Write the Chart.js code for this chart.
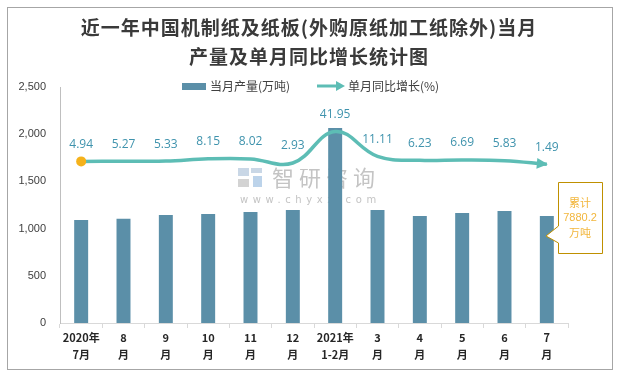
<!DOCTYPE html>
<html>
<head>
<meta charset="utf-8">
<script src="https://cdn.jsdelivr.net/npm/chart.js@4.4.0/dist/chart.umd.min.js"></script>
<style>
  html, body { margin: 0; padding: 0; background: #fff; }
  #wrap { width: 617px; height: 375px; position: relative; }
</style>
</head>
<body>
<div id="wrap"><canvas id="myChart"></canvas></div>
<script>
var categories = [['2020年', '7月'], ['8', '月'], ['9', '月'], ['10', '月'], ['11', '月'], ['12', '月'],
                  ['2021年', '1-2月'], ['3', '月'], ['4', '月'], ['5', '月'], ['6', '月'], ['7', '月']];
var output = [1091, 1105, 1144, 1155, 1176, 1197, 2065, 1197, 1133, 1165, 1186, 1134]; // 万吨
var growth = [4.94, 5.27, 5.33, 8.15, 8.02, 2.93, 41.95, 11.11, 6.23, 6.69, 5.83, 1.49]; // %
var titleLines = ['近一年中国机制纸及纸板(外购原纸加工纸除外)当月', '产量及单月同比增长统计图'];
var legendNames = ['当月产量(万吨)', '单月同比增长(%)'];
var totalNote = ['累计', '7880.2', '万吨'];

const barColor = '#5b8fa8';
const lineColor = '#5dbdb5';
const labelColor = '#3f93ad';
const noteColor = '#f2b63c';

// frame, title, legend, watermark, labels, callout
const decor = {
    id: 'decor',
    beforeDraw(chart) {
        const c = chart.ctx;
        c.save();
        c.fillStyle = '#fff';
        c.fillRect(0, 0, chart.width, chart.height);
        c.strokeStyle = '#a6a6a6';
        c.lineWidth = 1;
        c.strokeRect(7.5, 7.5, 605, 362);

        // title
        c.fillStyle = '#3a3a3a';
        c.font = 'bold 19px "Noto Sans CJK SC"';
        c.textAlign = 'center';
        c.textBaseline = 'middle';
        c.letterSpacing = '1px';
        c.fillText(titleLines[0], 309, 28);
        c.fillText(titleLines[1], 309, 57);
        c.letterSpacing = '0px';

        // legend
        c.font = '12px "Noto Sans CJK SC"';
        c.textAlign = 'left';
        c.fillStyle = barColor;
        c.fillRect(182, 83, 24, 7);
        c.fillStyle = '#404040';
        c.fillText(legendNames[0], 210, 86);
        c.strokeStyle = lineColor;
        c.lineWidth = 3;
        c.beginPath();
        c.moveTo(317, 86);
        c.lineTo(338, 86);
        c.stroke();
        c.fillStyle = lineColor;
        c.beginPath();
        c.moveTo(345, 86);
        c.lineTo(336, 81);
        c.lineTo(336, 91);
        c.closePath();
        c.fill();
        c.fillStyle = '#404040';
        c.fillText(legendNames[1], 348, 86);
        c.restore();
    },
    beforeDatasetsDraw(chart) {
        // watermark under the bars
        const c = chart.ctx;
        c.save();
        c.fillStyle = '#c9d7e6';
        c.fillRect(238, 168, 11, 8);
        c.fillRect(251, 168, 11, 5);
        c.fillStyle = '#d3d3d3';
        c.fillRect(238, 179, 11, 8);
        c.fillStyle = '#bcd3ea';
        c.fillRect(253, 176, 9, 11);
        c.fillStyle = '#c4c4c4';
        c.font = '22px "Noto Sans CJK SC"';
        c.textAlign = 'left';
        c.textBaseline = 'middle';
        c.letterSpacing = '5px';
        c.fillText('智研咨询', 272, 178);
        c.font = '10px "DejaVu Sans"';
        c.letterSpacing = '4.6px';
        c.fillText('www.chyxx.com', 240, 200);
        c.restore();
    },
    afterDatasetsDraw(chart) {
        const c = chart.ctx;
        const meta = chart.getDatasetMeta(1);
        c.save();
        // arrow head at last point
        const last = meta.data[meta.data.length - 1];
        const ang = Math.atan2(last.y - last.cp1y, last.x - last.cp1x);
        c.translate(last.x, last.y);
        c.rotate(ang);
        c.fillStyle = lineColor;
        c.beginPath();
        c.moveTo(1, 0);
        c.lineTo(-10, -5.5);
        c.lineTo(-10, 5.5);
        c.closePath();
        c.fill();
        c.restore();

        // value labels
        c.save();
        c.fillStyle = labelColor;
        c.font = '12px "Open Sans"';
        c.textAlign = 'center';
        c.textBaseline = 'middle';
        meta.data.forEach(function (p, i) {
            c.fillText(growth[i].toFixed(2), p.x, p.y - 17);
        });

        // callout box
        c.strokeStyle = '#bf9000';
        c.lineWidth = 1;
        c.fillStyle = '#fff';
        c.beginPath();
        c.moveTo(558.5, 182.5);
        c.lineTo(602.5, 182.5);
        c.lineTo(602.5, 253.5);
        c.lineTo(558.5, 253.5);
        c.lineTo(558.5, 243);
        c.lineTo(546, 236);
        c.lineTo(558.5, 226);
        c.closePath();
        c.fill();
        c.stroke();
        c.fillStyle = noteColor;
        c.font = '11px "Noto Sans CJK SC"';
        c.fillText(totalNote[0], 580, 203);
        c.font = '11px "Liberation Sans"';
        c.fillText(totalNote[1], 580, 218);
        c.font = '11px "Noto Sans CJK SC"';
        c.fillText(totalNote[2], 580, 233);
        c.restore();
    }
};

const ctx = document.getElementById('myChart').getContext('2d');
new Chart(ctx, {
    data: {
        labels: categories,
        datasets: [
            {
                type: 'bar',
                label: legendNames[0],
                data: output,
                backgroundColor: barColor,
                barPercentage: 0.33,
                categoryPercentage: 1,
                yAxisID: 'y',
                order: 2
            },
            {
                type: 'line',
                label: legendNames[1],
                data: growth,
                borderColor: lineColor,
                borderWidth: 3.5,
                tension: 0.4,
                pointRadius: growth.map((v, i) => i === 0 ? 5 : 0),
                pointBackgroundColor: '#f5b21b',
                pointBorderWidth: 0,
                yAxisID: 'y2',
                order: 1
            }
        ]
    },
    options: {
        responsive: true,
        maintainAspectRatio: false,
        animation: false,
        layout: { padding: { top: 87, right: 49, left: 0, bottom: 0 } },
        plugins: {
            legend: { display: false },
            title: { display: false },
            tooltip: { enabled: false }
        },
        scales: {
            x: {
                grid: {
                    drawOnChartArea: false,
                    drawTicks: true,
                    tickLength: 5,
                    color: '#d9d9d9'
                },
                border: { color: '#d9d9d9', width: 1 },
                ticks: {
                    color: '#262626',
                    font: { size: 11, weight: 'bold', family: '"Noto Sans CJK SC"', lineHeight: 1.5 },
                    padding: 2,
                    maxRotation: 0,
                    autoSkip: false
                },
                afterFit: function (s) { s.height = 52; }
            },
            y: {
                min: 0,
                max: 2500,
                ticks: {
                    stepSize: 500,
                    color: '#404040',
                    font: { size: 11, family: '"Liberation Sans"' },
                    padding: 14,
                    callback: v => v.toLocaleString('en-US')
                },
                grid: { display: false, drawTicks: false },
                border: { color: '#bfbfbf', width: 1 },
                afterFit: function (s) { s.width = 60; }
            },
            y2: {
                display: false,
                min: -195,
                max: 97
            }
        }
    },
    plugins: [decor]
});
</script>
</body>
</html>
